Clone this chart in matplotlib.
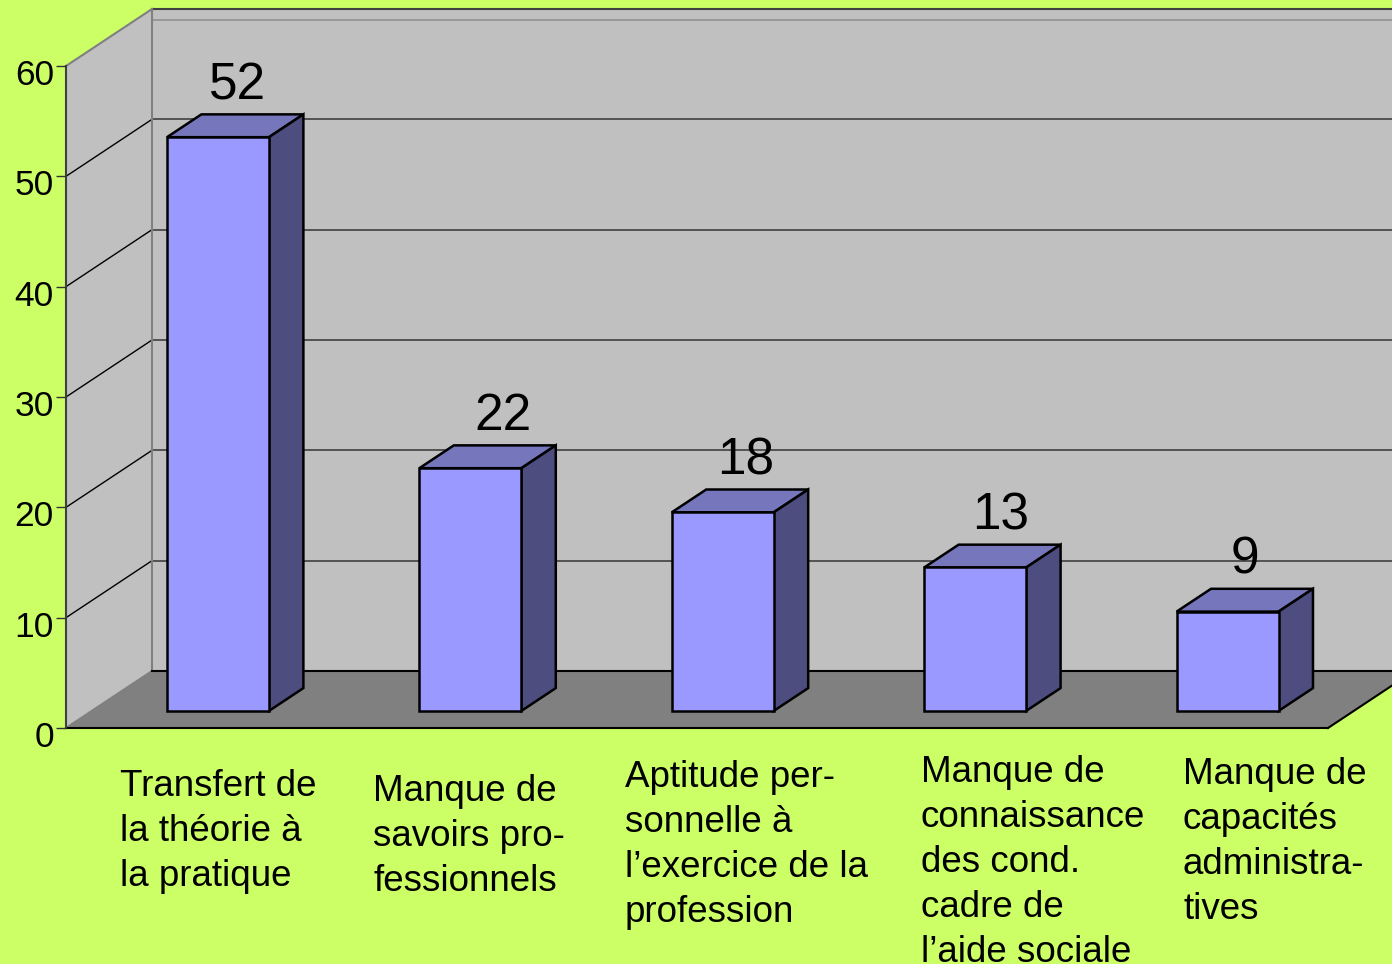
import numpy as np
import matplotlib.pyplot as plt
from matplotlib.patches import Polygon
from matplotlib.transforms import ScaledTranslation

plt.rcParams['font.family'] = ['Liberation Sans', 'DejaVu Sans']

# Données
categories = ["Transfert de\nla théorie à\nla pratique",
              "Manque de\nsavoirs pro-\nfessionnels",
              "Aptitude per-\nsonnelle à\nl’exercice de la\nprofession",
              "Manque de\nconnaissance\ndes cond.\ncadre de\nl’aide sociale",
              "Manque de\ncapacités\nadministra-\ntives"]
values = [52, 22, 18, 13, 9]
yticks = [0, 10, 20, 30, 40, 50, 60]

# position des étiquettes (pixels)
label_left = [120, 373, 625, 921, 1183]
label_top = [769, 774, 760, 755, 757]
# décalage horizontal des valeurs (px)
value_dx = [20, 33, 23, 25, 17]

W, H = 1392, 964
fig = plt.figure(figsize=(W / 100, H / 100), dpi=100)
fig.patch.set_facecolor('#ccff66')
ax = fig.add_axes([66 / W, 236 / H, 1262 / W, 662 / H])
n = len(values)
ymax = yticks[-1]
ax.set_xlim(0, n)
ax.set_ylim(0, ymax)
ax.patch.set_visible(False)

# profondeur 3D en unités de données
PX = 1262 / n
DX = 86 / PX
DY = 57 / (662 / ymax)
BW = 0.404
T0, T1 = 0.3, 0.7
EXT = 1.0  # prolongement à droite


def poly(pts, fc, ec='none', lw=0, z=1):
    ax.add_patch(Polygon(pts, closed=True, facecolor=fc, edgecolor=ec,
                         linewidth=lw, zorder=z, clip_on=False))


# murs et sol
poly([(DX, DY), (n + DX + EXT, DY), (n + DX + EXT, ymax + DY), (DX, ymax + DY)], '#c0c0c0', z=0.5)
poly([(0, 0), (DX, DY), (DX, ymax + DY), (0, ymax)], '#c0c0c0', z=0.5)
poly([(0, 0), (n, 0), (n + DX, DY), (DX, DY)], '#808080', z=0.7)

for v in yticks[1:-1]:
    ax.plot([0, DX], [v, v + DY], color='black', lw=1, zorder=0.8, clip_on=False)
    ax.plot([DX, n + DX + EXT], [v + DY, v + DY], color='#404040', lw=1.2, zorder=0.8, clip_on=False)

ax.plot([DX, n + DX + EXT], [ymax + DY, ymax + DY], color='#404040', lw=1.5, zorder=0.8, clip_on=False)
ax.plot([DX, n + DX + EXT], [ymax + DY - 1.0, ymax + DY - 1.0], color='#909090', lw=1.2, zorder=0.8, clip_on=False)
ax.plot([0, DX], [ymax, ymax + DY], color='#808080', lw=1.5, zorder=0.8, clip_on=False)
ax.plot([DX, DX], [DY, ymax + DY], color='#808080', lw=1.5, zorder=0.8, clip_on=False)
ax.plot([0, DX], [0, DY], color='#808080', lw=1.5, zorder=0.9, clip_on=False)
ax.plot([DX, n + DX + EXT], [DY, DY], color='black', lw=1.5, zorder=0.9, clip_on=False)
ax.plot([0, n], [0, 0], color='black', lw=1.5, zorder=0.9, clip_on=False)
ax.plot([n, n + DX], [0, DY], color='black', lw=1.5, zorder=0.9, clip_on=False)

# barres
dd = T1 - T0
for i, v in enumerate(values):
    x0 = i + 0.5 - BW / 2 + T0 * DX
    y0 = T0 * DY
    ax.bar(x0, v, width=BW, bottom=y0, align='edge', color='#9999ff',
           edgecolor='black', linewidth=1.8, zorder=3, clip_on=False)
    poly([(x0, y0 + v), (x0 + BW, y0 + v), (x0 + BW + dd * DX, y0 + v + dd * DY),
          (x0 + dd * DX, y0 + v + dd * DY)], '#7676bd', 'black', 1.8, 2)
    poly([(x0 + BW, y0), (x0 + BW + dd * DX, y0 + dd * DY),
          (x0 + BW + dd * DX, y0 + v + dd * DY), (x0 + BW, y0 + v)], '#4d4d80', 'black', 1.8, 2)
    ax.text(x0 + BW / 2 + value_dx[i] / PX, v + T1 * DY + 1.35, str(v), ha='center',
            va='baseline', fontsize=37, zorder=4)

# axe Y
ax.set_xticks([])
ax.set_yticks(yticks)
ax.tick_params(axis='y', length=7.2, width=1.0, color='#333333', pad=1.5, labelsize=25.5)
for lab in ax.get_yticklabels():
    lab.set_transform(lab.get_transform() + ScaledTranslation(0, -6 / 100, fig.dpi_scale_trans))
for s in ['top', 'right', 'bottom']:
    ax.spines[s].set_visible(False)
ax.spines['left'].set_color('#404040')
ax.spines['left'].set_linewidth(1.5)
ax.spines['left'].set_zorder(1)

# étiquettes des catégories
for lab, lx, ly in zip(categories, label_left, label_top):
    fig.text(lx / W, 1 - ly / H, lab, ha='left', va='top', fontsize=26.5, linespacing=1.37)

fig.savefig('out.png', dpi=100, facecolor=fig.get_facecolor())
